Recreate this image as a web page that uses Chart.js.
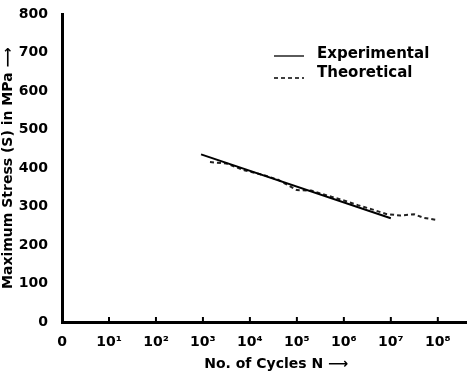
<!DOCTYPE html>
<html>
<head>
<meta charset="utf-8">
<script src="https://cdn.jsdelivr.net/npm/chart.js@4/dist/chart.umd.min.js"></script>
<style>
  html, body { margin: 0; padding: 0; background: #fff; }
  #wrap { width: 468px; height: 373px; }
</style>
</head>
<body>
<div id="wrap"><canvas id="snChart"></canvas></div>
<script>
// S-N curve data (x = log10 of cycles)
const expCycles = [2.96, 7.0];
const expStress = [436, 270];

const theoCycles = [3.15, 3.5, 3.9, 4.3, 4.6, 5.0, 5.3, 5.7, 6.0, 6.3, 6.6, 6.9, 7.2, 7.5, 7.7, 7.95];
const theoStress = [416, 412, 394, 382, 370, 343, 342, 327, 316, 304, 293, 281, 277, 280, 271, 266];

const xTickLabels = ['0', '10¹', '10²', '10³', '10⁴', '10⁵', '10⁶', '10⁷', '10⁸'];
const yTicks = [0, 100, 200, 300, 400, 500, 600, 700, 800];

const boldFont = { family: 'DejaVu Sans', size: 14, weight: 'bold' };

// small tick marks pointing into the plot + legend
const decorPlugin = {
    id: 'decor',
    afterDraw(chart) {
        const ctx = chart.ctx;
        const xs = chart.scales.x;
        const bottom = chart.chartArea.bottom;
        ctx.save();
        ctx.strokeStyle = '#000';
        ctx.lineWidth = 2;
        for (let i = 1; i < xTickLabels.length; i++) {
            const px = xs.getPixelForValue(i);
            ctx.beginPath();
            ctx.moveTo(px, bottom);
            ctx.lineTo(px, bottom - 5);
            ctx.stroke();
        }
        // legend
        const items = chart.data.datasets;
        ctx.font = 'bold 15px "DejaVu Sans"';
        ctx.textBaseline = 'middle';
        ctx.fillStyle = '#000';
        items.forEach((ds, i) => {
            const y = 56 + i * 19;
            ctx.lineWidth = 1.3;
            ctx.setLineDash(ds.borderDash || []);
            ctx.beginPath();
            ctx.moveTo(274, y + (i ? 3 : 0));
            ctx.lineTo(304, y + (i ? 3 : 0));
            ctx.stroke();
            ctx.setLineDash([]);
            ctx.fillText(ds.label, 317, y - 2);
        });
        ctx.restore();
    }
};

new Chart(document.getElementById('snChart'), {
    type: 'scatter',
    data: {
        datasets: [
            {
                label: 'Experimental',
                data: expCycles.map((x, i) => ({ x, y: expStress[i] })),
                showLine: true,
                borderColor: '#000',
                borderWidth: 2,
                pointRadius: 0
            },
            {
                label: 'Theoretical',
                data: theoCycles.map((x, i) => ({ x, y: theoStress[i] })),
                showLine: true,
                borderColor: '#222',
                borderWidth: 2,
                borderDash: [4, 3],
                pointRadius: 0
            }
        ]
    },
    options: {
        responsive: true,
        maintainAspectRatio: false,
        animation: false,
        layout: { padding: { top: 10, right: 2, left: 0, bottom: 0 } },
        plugins: {
            legend: { display: false },
            tooltip: { enabled: false }
        },
        scales: {
            x: {
                type: 'linear',
                min: 0,
                max: 8.6,
                afterBuildTicks: s => { s.ticks = xTickLabels.map((_, i) => ({ value: i })); },
                afterFit: s => { s.height = 51; },
                border: { color: '#000', width: 3 },
                grid: { display: false },
                ticks: {
                    color: '#000',
                    font: boldFont,
                    padding: 4,
                    maxRotation: 0,
                    callback: v => xTickLabels[v]
                },
                title: {
                    display: true,
                    text: '     No. of Cycles N ⟶',
                    color: '#000',
                    font: boldFont,
                    padding: { top: 4, bottom: 0 }
                }
            },
            y: {
                min: 0,
                max: 800,
                afterBuildTicks: s => { s.ticks = yTicks.map(v => ({ value: v })); },
                afterFit: s => { s.width = 62; },
                border: { color: '#000', width: 3 },
                grid: { display: false },
                ticks: {
                    color: '#000',
                    font: boldFont,
                    padding: 6
                },
                title: {
                    display: true,
                    text: 'Maximum Stress (S) in MPa ⟶',
                    color: '#000',
                    font: boldFont,
                    padding: { top: 0, bottom: 0 }
                }
            }
        }
    },
    plugins: [decorPlugin]
});
</script>
</body>
</html>
